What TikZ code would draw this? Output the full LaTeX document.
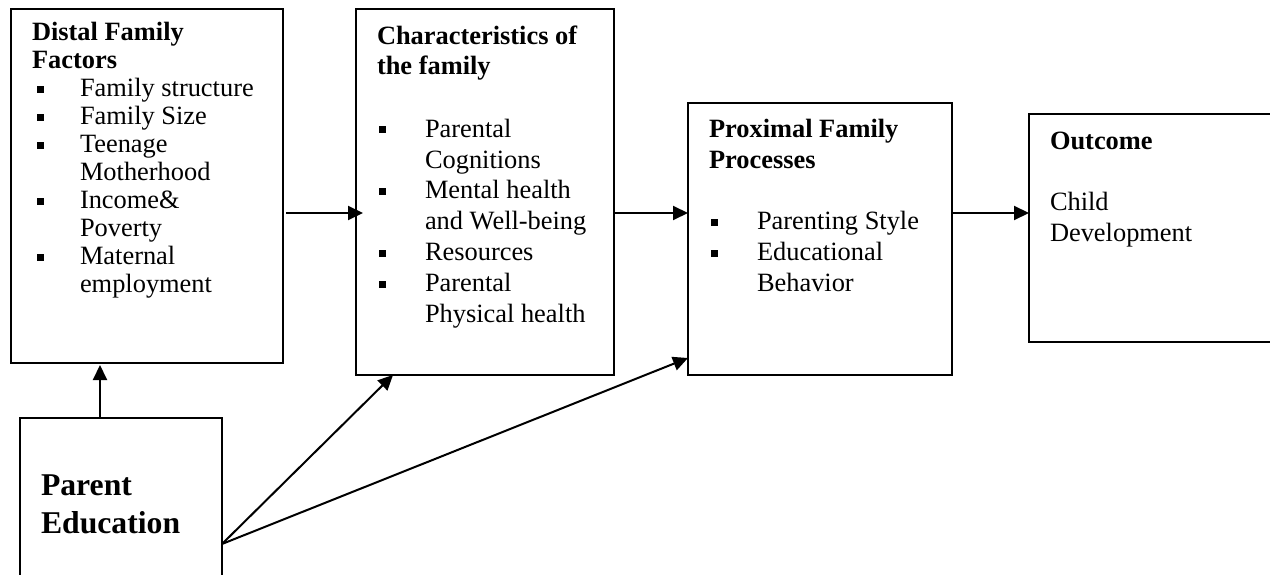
\documentclass[tikz,border=0pt]{standalone}
\usepackage{fontspec}
\setmainfont{Liberation Serif}
\usetikzlibrary{arrows.meta}

% square bullet, shifted in by #1
\newcommand{\blt}[1][2pt]{\makebox[48pt][l]{\hspace*{#1}\rule[4pt]{7pt}{7pt}}}

\begin{document}
\begin{tikzpicture}[x=1pt,y=-1pt,
  box/.style={draw, line width=1.5pt, inner sep=0pt, outer sep=0pt, anchor=north west},
  txt/.style={inner sep=0pt, outer sep=0pt, anchor=north west, font=\fontsize{26.4}{31}\selectfont},
  arr/.style={line width=2pt, -{Triangle[length=15pt,width=14pt]}}]
\clip (0,0) rectangle (1270,575);

\node[box, minimum width=272pt, minimum height=354pt] (distal) at (11,9) {};
\node[box, minimum width=258pt, minimum height=366pt] (chars) at (356,9) {};
\node[box, minimum width=264pt, minimum height=272pt] (prox) at (688,103) {};
\node[box, minimum width=300pt, minimum height=228pt] (outcome) at (1029,114) {};
\node[box, minimum width=202pt, minimum height=220pt] (parent) at (20,418) {};

\node[txt, font=\fontsize{26.4}{28}\selectfont] (distal-txt) at (32,21.1) {%
\begin{tabular}{@{}l@{}l@{}}
\multicolumn{2}{@{}l@{}}{\bfseries Distal Family}\\
\multicolumn{2}{@{}l@{}}{\bfseries Factors}\\
\blt[5pt] & Family structure\\
\blt[5pt] & Family Size\\
\blt[5pt] & Teenage\\
 & Motherhood\\
\blt[5pt] & Income\&\\
 & Poverty\\
\blt[5pt] & Maternal\\
 & employment
\end{tabular}};

\node[txt] (chars-txt) at (377,22.3) {%
\begin{tabular}{@{}l@{}l@{}}
\multicolumn{2}{@{}l@{}}{\bfseries Characteristics of}\\
\multicolumn{2}{@{}l@{}}{\bfseries the family}\\
 & \\
\blt & Parental\\
 & Cognitions\\
\blt & Mental health\\
 & and Well-being\\
\blt & Resources\\
\blt & Parental\\
 & Physical health
\end{tabular}};

\node[txt] (prox-txt) at (709,115.3) {%
\begin{tabular}{@{}l@{}l@{}}
\multicolumn{2}{@{}l@{}}{\bfseries Proximal Family}\\
\multicolumn{2}{@{}l@{}}{\bfseries Processes}\\
 & \\
\blt & Parenting Style\\
\blt & Educational\\
 & Behavior
\end{tabular}};

\node[txt] (outcome-txt) at (1050,127.3) {%
\begin{tabular}{@{}l@{}}
\bfseries Outcome\\
\\
Child\\
Development
\end{tabular}};

\node[txt, font=\fontsize{31.7}{38}\selectfont\bfseries] (parent-txt) at (41,468.4) {%
\begin{tabular}{@{}l@{}}
Parent\\
Education
\end{tabular}};

% arrows
\coordinate (row) at (0,213);
\draw[arr] ([xshift=3pt]distal.east |- row) -- ([xshift=7pt]chars.west |- row);
\draw[arr] (chars.east |- row) -- (prox.west |- row);
\draw[arr] (prox.east |- row) -- (outcome.west |- row);
\draw[arr] ([xshift=-21pt]parent.north) -- ([xshift=-21pt,yshift=-2pt]parent.north |- distal.south);
\draw[arr] ([yshift=-126pt]parent.north east) -- ([xshift=37pt]chars.south west);
\draw[arr] ([yshift=-126pt]parent.north east) -- ([yshift=17pt]prox.south west);
\end{tikzpicture}
\end{document}
